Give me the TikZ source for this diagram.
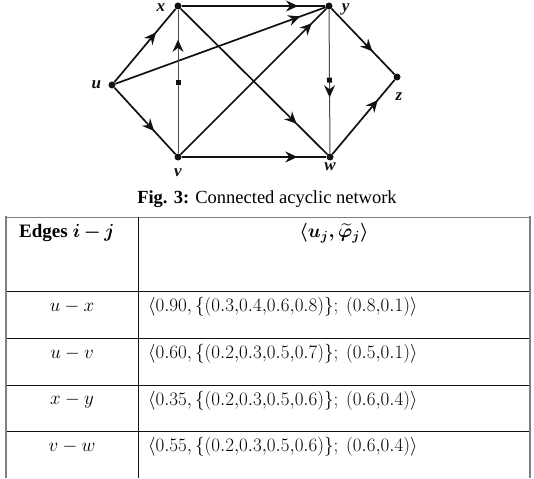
\RequirePackage{fix-cm}
\documentclass[tikz,border=0pt]{standalone}
\usepackage{fontspec}
\setmainfont{Liberation Serif}
\usepackage{amsmath,amssymb}
\usepackage{tikz}
\usetikzlibrary{arrows.meta,positioning,decorations.markings}
\definecolor{rule}{HTML}{808080}
\definecolor{ink}{HTML}{111111}
\tikzset{
  dot/.style={circle,fill=ink,inner sep=0pt,minimum size=7pt},
  lbl/.style={font=\fontsize{17}{20}\selectfont\bfseries\itshape,text=ink,inner sep=1pt},
  edge/.style={line width=1.7pt,color=ink},
  thinedge/.style={line width=1pt,color=ink!75},
  arrowat/.style={postaction={decorate,decoration={markings,
    mark=at position #1 with {\arrow[color=ink]{Stealth[length=12pt,width=11pt,inset=4pt]}}}}},
  sqat/.style={postaction={decorate,decoration={markings,
    mark=at position #1 with {\fill[ink] (-2.5pt,-2.5pt) rectangle (2.5pt,2.5pt);}}}},
  cell/.style={font=\fontsize{19}{22}\selectfont,inner sep=0pt},
  hline/.style={line width=0.9pt,color=ink},
  frame/.style={line width=2.2pt,color=rule}
}
\begin{document}
\begin{tikzpicture}[x=1pt,y=-1pt]
  \useasboundingbox (0,0) rectangle (534,478);
  % network
  \node[dot,label={[lbl,label distance=8pt,yshift=-2pt]left:x}] (x) at (178,6) {};
  \node[dot,label={[lbl,label distance=8pt,yshift=-3pt]right:y}] (y) at (329,6) {};
  \node[dot,label={[lbl,label distance=6pt]left:u}] (u) at (112,85) {};
  \node[dot,label={[lbl,label distance=11pt,xshift=2pt]below:z}] (z) at (397,77) {};
  \node[dot,label={[lbl,label distance=7pt]below:v}] (v) at (178,157) {};
  \node[dot,label={[lbl,label distance=1pt]below:w}] (w) at (330,157) {};
  \draw[edge,arrowat=0.68] (u) -- (x);
  \draw[edge,arrowat=0.65] (u) -- (v);
  \draw[edge,arrowat=0.81] (x) -- (y);
  \draw[edge,arrowat=0.88] (u) -- (y);
  \draw[edge,arrowat=0.90] (v) -- (y);
  \draw[edge,arrowat=0.79] (x) -- (w);
  \draw[edge,arrowat=0.80] (v) -- (w);
  \draw[edge,arrowat=0.65] (y) -- (z);
  \draw[edge,arrowat=0.73] (w) -- (z);
  \draw[thinedge,sqat=0.49,arrowat=0.79] (v) -- (x);
  \draw[thinedge,sqat=0.49,arrowat=0.61] (y) -- (w);
  % caption
  \node[font=\fontsize{18.5}{22}\selectfont] (cap) at (267,199) {\textbf{Fig. 3:} Connected acyclic network};
  % table
  \draw[line width=0.8pt,color=rule] (6,217) -- (530,217);
  \foreach \yy in {291,338,385,431} \draw[hline] (6,\yy) -- (530,\yy);
  \draw[frame] (6,216) -- (6,478);
  \draw[frame] (530,216) -- (530,478);
  \draw[hline] (138,217) -- (138,478);
  \node[cell,anchor=west] (hleft) at (19,233) {\textbf{Edges} $\boldsymbol{i\mkern-1mu-\mkern-1mu j}$};
  \node[cell] (hright) at (334,233) {$\boldsymbol{\langle u_j,\widetilde{\varphi}_j\rangle}$};
  \foreach \e/\val [count=\r from 0] in {
    {u-x}/{0.90,\{(0.3{,}0.4{,}0.6{,}0.8)\};\ (0.8{,}0.1)},
    {u-v}/{0.60,\{(0.2{,}0.3{,}0.5{,}0.7)\};\ (0.5{,}0.1)},
    {x-y}/{0.35,\{(0.2{,}0.3{,}0.5{,}0.6)\};\ (0.6{,}0.4)},
    {v-w}/{0.55,\{(0.2{,}0.3{,}0.5{,}0.6)\};\ (0.6{,}0.4)}} {
    \node[cell] (e\r) at (72,307+46.7*\r) {$\e$};
    \node[cell,anchor=west] (p\r) at (148,307+46.7*\r) {$\langle\val\rangle$};
  }
\end{tikzpicture}
\end{document}
